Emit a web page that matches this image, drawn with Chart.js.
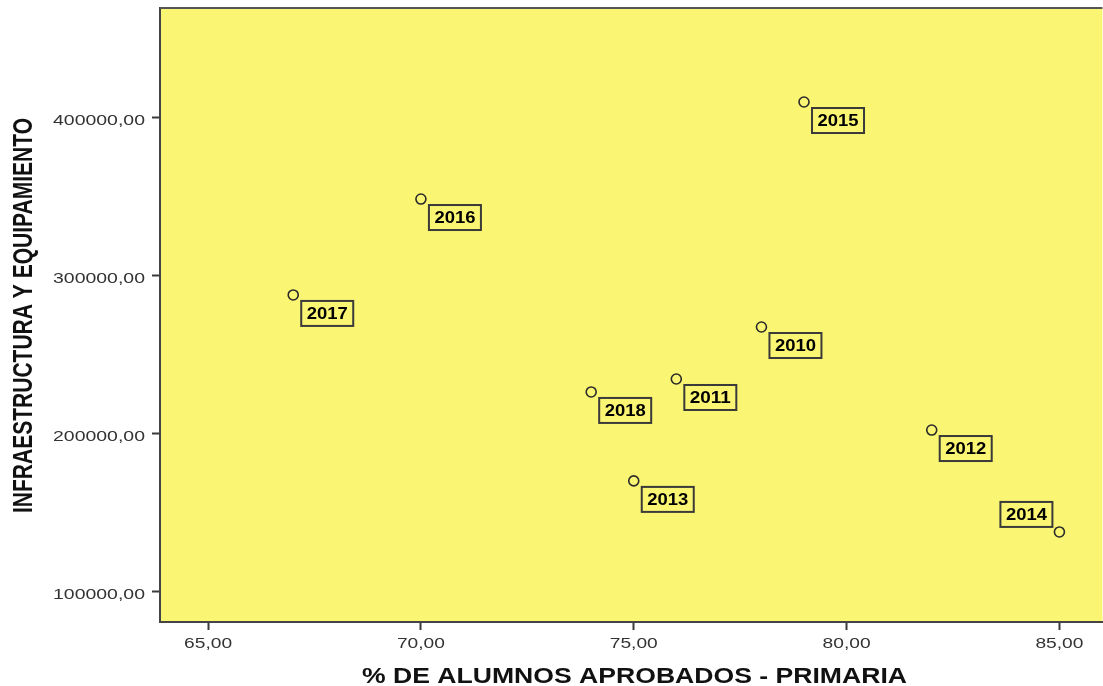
<!DOCTYPE html>
<html>
<head>
<meta charset="utf-8">
<script src="https://cdn.jsdelivr.net/npm/chart.js@4.4.1/dist/chart.umd.min.js"></script>
<style>
html,body{margin:0;padding:0;background:#fff;overflow:hidden;}
#wrap{width:1103px;height:686px;position:relative;overflow:hidden;}
</style>
</head>
<body>
<div id="wrap"><canvas id="c" width="1109" height="686"></canvas></div>
<script>
// ---- data ----
const years = ['2010','2011','2012','2013','2014','2015','2016','2017','2018'];
const aprobados = [78, 76, 82, 75, 85, 79, 70, 67, 74];
const infraestructura = [267700, 234800, 202500, 170300, 138000, 410100, 348700, 288000, 226600];
const xTicks = [65, 70, 75, 80, 85];
const yTicks = [100000, 200000, 300000, 400000];
const xTitle = '% DE ALUMNOS APROBADOS - PRIMARIA';
const yTitle = 'INFRAESTRUCTURA Y EQUIPAMIENTO';
// label placement (style)
const leftLabels = ['2014'];

const points = aprobados.map((x, i) => ({x: x, y: infraestructura[i]}));
const fmt = v => Number(v).toFixed(2).replace('.', ',');
const YELLOW = '#faf573';
const DARK = '#3a3a3a';
const FONT = '"Liberation Sans", Arial, sans-serif';

function stretchedText(ctx, text, x, y, targetW, align) {
  const m = ctx.measureText(text).width;
  const k = targetW / m;
  ctx.save();
  ctx.translate(x, y);
  ctx.scale(k, 1);
  ctx.textAlign = align;
  ctx.fillText(text, 0, 0);
  ctx.restore();
}

const bgPlugin = {
  id: 'bg',
  beforeDraw(chart) {
    const {ctx, chartArea: a} = chart;
    ctx.save();
    ctx.fillStyle = YELLOW;
    ctx.fillRect(a.left, a.top, a.right - a.left, a.bottom - a.top);
    ctx.restore();
  },
  afterDraw(chart) {
    const {ctx, chartArea: a} = chart;
    const xs = chart.scales.x, ys = chart.scales.y;
    ctx.save();
    // top border
    ctx.strokeStyle = '#555';
    ctx.lineWidth = 2;
    ctx.beginPath();
    ctx.moveTo(a.left, a.top);
    ctx.lineTo(a.right, a.top);
    ctx.stroke();
    // tick labels (horizontally widened like the original)
    ctx.fillStyle = '#333';
    ctx.textBaseline = 'alphabetic';
    ctx.font = '14px ' + FONT;
    xTicks.forEach(v => {
      stretchedText(ctx, fmt(v), xs.getPixelForValue(v), 648, 48, 'center');
    });
    yTicks.forEach(v => {
      stretchedText(ctx, fmt(v), 145, ys.getPixelForValue(v) + 7, 92, 'right');
    });
    // point labels
    const meta = chart.getDatasetMeta(0);
    ctx.font = 'bold 16px ' + FONT;
    ctx.textBaseline = 'middle';
    meta.data.forEach((el, i) => {
      const w = 52, h = 25;
      let bx, by;
      if (leftLabels.includes(years[i])) {
        bx = el.x - 7 - w; by = el.y - 5 - h;
      } else {
        bx = el.x + 8; by = el.y + 6;
      }
      ctx.fillStyle = YELLOW;
      ctx.fillRect(bx, by, w, h);
      ctx.strokeStyle = DARK;
      ctx.lineWidth = 2;
      ctx.strokeRect(bx, by, w, h);
      ctx.fillStyle = '#000';
      stretchedText(ctx, years[i], bx + w / 2, by + h / 2 + 1, 41, 'center');
    });
    // axis titles
    ctx.fillStyle = '#111';
    ctx.textBaseline = 'alphabetic';
    ctx.font = 'bold 22px ' + FONT;
    stretchedText(ctx, xTitle, 634.5, 683, 545, 'center');
    ctx.font = 'bold 28px ' + FONT;
    ctx.save();
    ctx.translate(32, 315.5);
    ctx.rotate(-Math.PI / 2);
    stretchedText(ctx, yTitle, 0, 0, 395, 'center');
    ctx.restore();
    ctx.restore();
  }
};

new Chart(document.getElementById('c'), {
  type: 'scatter',
  data: {
    datasets: [{
      data: points,
      pointRadius: 5,
      pointHoverRadius: 5,
      pointBorderWidth: 1.6,
      pointBorderColor: '#2a2a2a',
      pointBackgroundColor: 'rgba(0,0,0,0)'
    }]
  },
  options: {
    responsive: false,
    animation: false,
    layout: {padding: {top: 8, right: 0, left: 0, bottom: 0}},
    plugins: {legend: {display: false}, tooltip: {enabled: false}},
    scales: {
      x: {
        type: 'linear',
        min: 63.87,
        max: 86.01,
        afterBuildTicks(s) { s.ticks = xTicks.map(v => ({value: v})); },
        afterFit(s) { s.height = 64; },
        grid: {drawOnChartArea: false, drawTicks: true, tickLength: 8, tickColor: DARK, tickWidth: 2},
        border: {color: '#444', width: 2},
        ticks: {display: false}
      },
      y: {
        type: 'linear',
        min: 81000,
        max: 469600,
        afterBuildTicks(s) { s.ticks = yTicks.map(v => ({value: v})); },
        afterFit(s) { s.width = 160; },
        grid: {drawOnChartArea: false, drawTicks: true, tickLength: 8, tickColor: DARK, tickWidth: 2},
        border: {color: '#444', width: 2},
        ticks: {display: false}
      }
    }
  },
  plugins: [bgPlugin]
});
</script>
</body>
</html>
